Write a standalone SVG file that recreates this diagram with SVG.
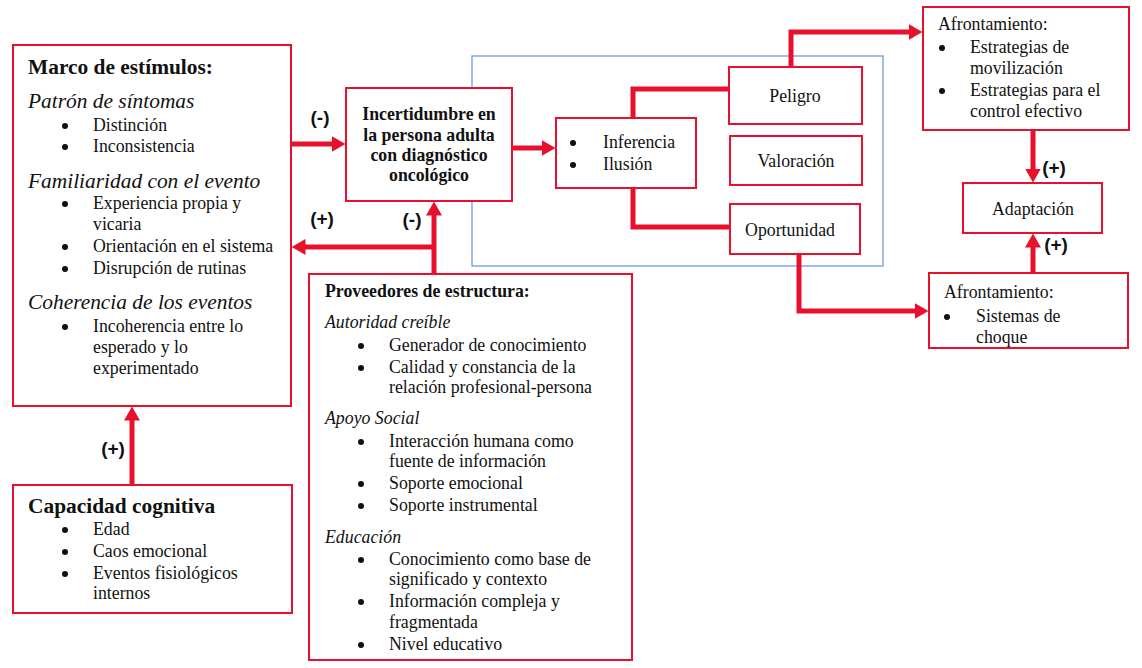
<svg xmlns="http://www.w3.org/2000/svg" width="1142" height="668" viewBox="0 0 1142 668">
<style>
.box{fill:#fff;stroke:#e8112d;stroke-width:2}
.con{fill:none;stroke:#e8112d;stroke-width:5}
.t{font-family:"Liberation Serif",serif;font-size:17.8px;fill:#111}
.bu{fill:#111}
.b{font-weight:bold}
.i{font-style:italic}
.h{font-family:"Liberation Serif",serif;font-size:21.4px;font-weight:bold;fill:#111}
.hi{font-family:"Liberation Serif",serif;font-size:21.4px;font-style:italic;fill:#111}
.lbl{font-family:"Liberation Sans",sans-serif;font-size:19px;font-weight:bold;fill:#111;text-anchor:middle}
.c{text-anchor:middle}
</style>
<defs>
<marker id="ah" markerUnits="userSpaceOnUse" viewBox="0 0 14 16" markerWidth="14" markerHeight="16" refX="0.5" refY="8" orient="auto">
<path d="M0,0 L14,8 L0,16 Z" fill="#e8112d"/>
</marker>
</defs>
<rect x="0" y="0" width="1142" height="668" fill="#fff"/>

<rect x="472" y="56" width="411" height="210" fill="none" stroke="#6d9be0" stroke-width="1.3"/>

<g id="connectors">
<path class="con" d="M291,144 H332" marker-end="url(#ah)"/>
<path class="con" d="M512,148 H542" marker-end="url(#ah)"/>
<path class="con" d="M434,274 V215" marker-end="url(#ah)"/>
<path class="con" d="M434,247 H305" marker-end="url(#ah)"/>
<path class="con" d="M132,485 V420" marker-end="url(#ah)"/>
<path class="con" d="M633,118 V89 H729"/>
<path class="con" d="M633,188 V227 H730"/>
<path class="con" d="M791,67 V32 H909" marker-end="url(#ah)"/>
<path class="con" d="M799,254 V311 H915" marker-end="url(#ah)"/>
<path class="con" d="M1033,130 V169" marker-end="url(#ah)"/>
<path class="con" d="M1033,273 V247" marker-end="url(#ah)"/>
<text class="lbl" x="320" y="124">(-)</text>
<text class="lbl" x="322" y="225">(+)</text>
<text class="lbl" x="412" y="226">(-)</text>
<text class="lbl" x="113" y="455">(+)</text>
<text class="lbl" x="1054" y="174">(+)</text>
<text class="lbl" x="1056" y="251">(+)</text>
</g>

<g id="marco">
<rect class="box" x="13" y="45" width="278" height="361"/>
<text class="h" x="28" y="74">Marco de estímulos:</text>
<text class="hi" x="28" y="108">Patrón de síntomas</text>
<circle class="bu" cx="65" cy="126" r="3"/><text class="t" x="93" y="131">Distinción</text>
<circle class="bu" cx="65" cy="147" r="3"/><text class="t" x="93" y="152">Inconsistencia</text>
<text class="hi" x="28" y="188">Familiaridad con el evento</text>
<circle class="bu" cx="65" cy="204" r="3"/><text class="t" x="93" y="209">Experiencia propia y</text>
<text class="t" x="93" y="230">vicaria</text>
<circle class="bu" cx="65" cy="247" r="3"/><text class="t" x="93" y="252">Orientación en el sistema</text>
<circle class="bu" cx="65" cy="269" r="3"/><text class="t" x="93" y="274">Disrupción de rutinas</text>
<text class="hi" x="28" y="309">Coherencia de los eventos</text>
<circle class="bu" cx="65" cy="327" r="3"/><text class="t" x="93" y="332">Incoherencia entre lo</text>
<text class="t" x="93" y="353">esperado y lo</text>
<text class="t" x="93" y="374">experimentado</text>
</g>

<g id="incertidumbre">
<rect class="box" x="346" y="88" width="166" height="113"/>
<text class="t b c" x="429" y="120">Incertidumbre en</text>
<text class="t b c" x="429" y="141">la persona adulta</text>
<text class="t b c" x="429" y="161">con diagnóstico</text>
<text class="t b c" x="429" y="181">oncológico</text>
</g>

<g id="inferencia">
<rect class="box" x="556" y="118" width="140" height="70"/>
<circle class="bu" cx="573" cy="143" r="3"/><text class="t" x="603" y="148">Inferencia</text>
<circle class="bu" cx="573" cy="165" r="3"/><text class="t" x="603" y="170">Ilusión</text>
</g>

<g id="peligro">
<rect class="box" x="729" y="67" width="133" height="57"/>
<text class="t c" x="795" y="102">Peligro</text>
</g>

<g id="valoracion">
<rect class="box" x="730" y="136" width="132" height="49"/>
<text class="t c" x="796" y="167">Valoración</text>
</g>

<g id="oportunidad">
<rect class="box" x="730" y="204" width="130" height="50"/>
<text class="t c" x="790" y="236">Oportunidad</text>
</g>

<g id="afrontamiento1">
<rect class="box" x="923" y="7" width="206" height="123"/>
<text class="t" x="938" y="30">Afrontamiento:</text>
<circle class="bu" cx="942" cy="48" r="3"/><text class="t" x="970" y="53">Estrategias de</text>
<text class="t" x="970" y="74">movilización</text>
<circle class="bu" cx="942" cy="91" r="3"/><text class="t" x="970" y="96">Estrategias para el</text>
<text class="t" x="970" y="117">control efectivo</text>
</g>

<g id="adaptacion">
<rect class="box" x="963" y="183" width="139" height="50"/>
<text class="t c" x="1033" y="215">Adaptación</text>
</g>

<g id="afrontamiento2">
<rect class="box" x="929" y="273" width="199" height="75"/>
<text class="t" x="944" y="298">Afrontamiento:</text>
<circle class="bu" cx="947" cy="317" r="3"/><text class="t" x="976" y="322">Sistemas de</text>
<text class="t" x="976" y="343">choque</text>
</g>

<g id="proveedores">
<rect class="box" x="309" y="274" width="323" height="386"/>
<text class="t b" x="325" y="297">Proveedores de estructura:</text>
<text class="t i" x="325" y="328">Autoridad creíble</text>
<circle class="bu" cx="361" cy="346" r="3"/><text class="t" x="389" y="351">Generador de conocimiento</text>
<circle class="bu" cx="361" cy="368" r="3"/><text class="t" x="389" y="373">Calidad y constancia de la</text>
<text class="t" x="389" y="393">relación profesional-persona</text>
<text class="t i" x="325" y="424">Apoyo Social</text>
<circle class="bu" cx="361" cy="442" r="3"/><text class="t" x="389" y="447">Interacción humana como</text>
<text class="t" x="389" y="467">fuente de información</text>
<circle class="bu" cx="361" cy="484" r="3"/><text class="t" x="389" y="489">Soporte emocional</text>
<circle class="bu" cx="361" cy="506" r="3"/><text class="t" x="389" y="511">Soporte instrumental</text>
<text class="t i" x="325" y="543">Educación</text>
<circle class="bu" cx="361" cy="560" r="3"/><text class="t" x="389" y="565">Conocimiento como base de</text>
<text class="t" x="389" y="585">significado y contexto</text>
<circle class="bu" cx="361" cy="602" r="3"/><text class="t" x="389" y="607">Información compleja y</text>
<text class="t" x="389" y="628">fragmentada</text>
<circle class="bu" cx="361" cy="645" r="3"/><text class="t" x="389" y="650">Nivel educativo</text>
</g>

<g id="capacidad">
<rect class="box" x="13" y="485" width="279" height="128"/>
<text class="h" x="28" y="513">Capacidad cognitiva</text>
<circle class="bu" cx="65" cy="530" r="3"/><text class="t" x="93" y="535">Edad</text>
<circle class="bu" cx="65" cy="552" r="3"/><text class="t" x="93" y="557">Caos emocional</text>
<circle class="bu" cx="65" cy="574" r="3"/><text class="t" x="93" y="579">Eventos fisiológicos</text>
<text class="t" x="93" y="599">internos</text>
</g>
</svg>
